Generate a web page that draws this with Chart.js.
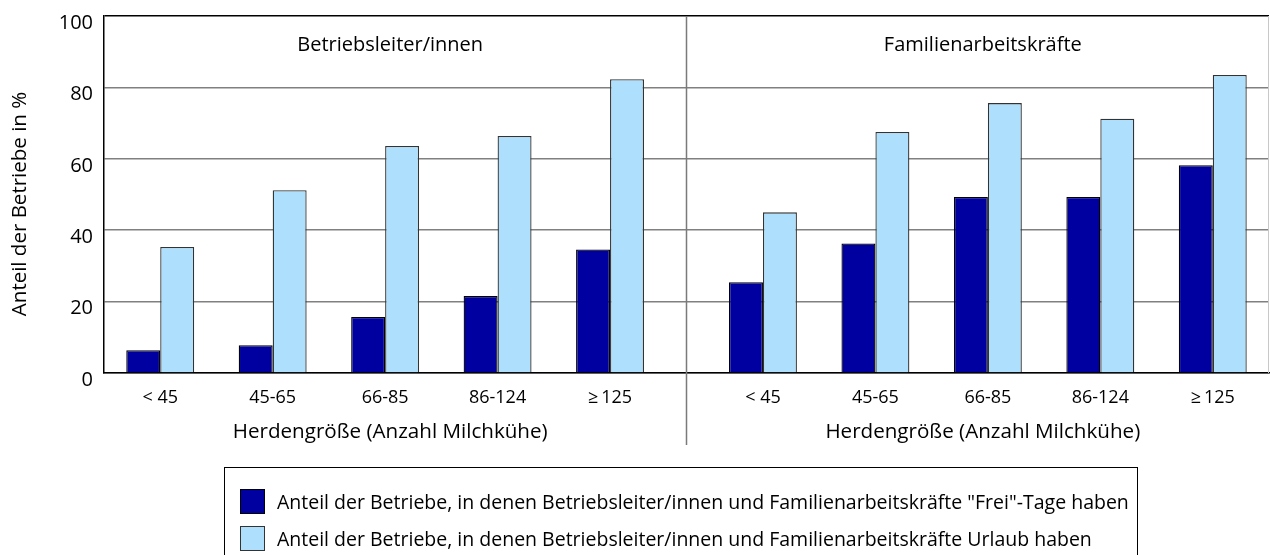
<!DOCTYPE html>
<html lang="de">
<head>
<meta charset="utf-8">
<title>Frei-Tage und Urlaub nach Herdengröße</title>
<script src="https://cdn.jsdelivr.net/npm/chart.js@4.4.1/dist/chart.umd.min.js"></script>
<style>
  html, body { margin: 0; padding: 0; background: #fff; }
  #wrap { position: relative; width: 1270px; height: 555px; }
  #legende {
    position: absolute; left: 224px; top: 467px; width: 914px; height: 100px;
    border: 1.5px solid #000; box-sizing: border-box;
    font-family: 'Open Sans', sans-serif; font-size: 19.5px; color: #000;
  }
  .eintrag { position: absolute; left: 15px; height: 26px; display: flex; align-items: center; white-space: nowrap; }
  .kasten { width: 25px; height: 25px; margin-right: 12px; box-sizing: border-box; }
</style>
</head>
<body>
<div id="wrap">
  <canvas id="chart"></canvas>
  <div id="legende"></div>
</div>
<script>
// --- DATEN ---
const groessen = ['< 45', '45-65', '66-85', '86-124', '\u2265\u2009125'];
const gruppen = ['Betriebsleiter/innen', 'Familienarbeitskräfte'];
const serien = [
  'Anteil der Betriebe, in denen Betriebsleiter/innen und Familienarbeitskräfte "Frei"-Tage haben',
  'Anteil der Betriebe, in denen Betriebsleiter/innen und Familienarbeitskräfte Urlaub haben'
];
// je 5 Werte Betriebsleiter/innen, dann 5 Werte Familienarbeitskräfte
const freiTage = [6.4, 7.8, 15.7, 21.6, 34.6, 25.4, 36.3, 49.3, 49.3, 58.2];
const urlaub = [35.3, 51.2, 63.6, 66.4, 82.3, 45.0, 67.5, 75.6, 71.2, 83.5];
const yTicks = [0, 20, 40, 60, 80, 100];
const achsenTitel = 'Herdengröße (Anzahl Milchkühe)';
const yTitel = 'Anteil der Betriebe in %';

// --- LAYOUT ---
const FARBEN = ['#0000A0', '#AEDFFC'];
const RAHMEN = ['#000000', '#333333'];
const LUECKE = 0.36; // zusätzlicher Abstand zwischen den beiden Gruppen (in Kategorien)
const SCHRIFT = "'Open Sans', sans-serif";

// Position einer Kategorie auf der x-Achse
function slot(i) {
  return i + (i >= groessen.length ? LUECKE : 0);
}
const trenner = (groessen.length - 1) + (1 + LUECKE) / 2;

const punkte = (werte) => werte.map((v, i) => ({ x: slot(i), y: v }));

// Eigene Zeichnungen: Trennlinie, Gruppentitel, Achsentitel
const beschriftung = {
  id: 'beschriftung',
  afterDraw(chart) {
    const c = chart.ctx;
    const x = chart.scales.x;
    const area = chart.chartArea;
    const xt = x.getPixelForValue(trenner);

    c.save();
    // rechter Rand
    c.strokeStyle = '#c8c8c8';
    c.lineWidth = 1;
    c.beginPath();
    c.moveTo(area.right - 0.5, area.top);
    c.lineTo(area.right - 0.5, area.bottom);
    c.stroke();
    // Trennlinie zwischen den Gruppen
    c.strokeStyle = '#7a7a7a';
    c.lineWidth = 1.5;
    c.beginPath();
    c.moveTo(xt, area.top);
    c.lineTo(xt, 445);
    c.stroke();

    c.fillStyle = '#000';
    c.textAlign = 'center';
    c.textBaseline = 'middle';
    const n = groessen.length;
    const mitten = [
      (x.getPixelForValue(slot(2)) + (area.left + xt) / 2) / 2,
      (x.getPixelForValue(slot(n + 2)) + (xt + area.right) / 2) / 2
    ];
    gruppen.forEach((g, k) => {
      c.font = '20px ' + SCHRIFT;
      c.fillText(g, mitten[k], 45);
      c.font = '20.6px ' + SCHRIFT;
      c.fillText(achsenTitel, mitten[k], 432);
    });

    // y-Achsentitel
    c.font = '20.5px ' + SCHRIFT;
    c.translate(20, 204);
    c.rotate(-Math.PI / 2);
    c.fillText(yTitel, 0, 0);
    c.restore();
  }
};

new Chart(document.getElementById('chart'), {
  type: 'bar',
  data: {
    datasets: [
      { label: serien[0], data: punkte(freiTage), backgroundColor: FARBEN[0], borderColor: RAHMEN[0], borderWidth: 1.3 },
      { label: serien[1], data: punkte(urlaub), backgroundColor: FARBEN[1], borderColor: RAHMEN[1], borderWidth: 1.3 }
    ]
  },
  options: {
    responsive: true,
    maintainAspectRatio: false,
    animation: false,
    layout: { padding: { top: 16, right: 1, left: 0, bottom: 0 } },
    categoryPercentage: 0.604,
    barPercentage: 1,
    plugins: { legend: { display: false }, tooltip: { enabled: false } },
    scales: {
      x: {
        type: 'linear',
        offset: false,
        min: -0.5,
        max: slot(freiTage.length - 1) + 0.5,
        afterBuildTicks: (s) => { s.ticks = freiTage.map((_, i) => ({ value: slot(i) })); },
        afterFit: (s) => { s.height = 182; s.paddingLeft = 0; s.paddingRight = 0; },
        grid: { display: false, drawTicks: false, offset: false },
        border: { color: '#000', width: 1.5 },
        ticks: {
          autoSkip: false, maxRotation: 0, padding: 14, color: '#000',
          font: { family: SCHRIFT, size: 18 },
          callback: (v, i) => groessen[i % groessen.length]
        }
      },
      y: {
        min: 0, max: 100,
        afterBuildTicks: (s) => { s.ticks = yTicks.map(v => ({ value: v })); },
        afterFit: (s) => { s.width = 104; s.paddingTop = 0; s.paddingBottom = 0; },
        grid: {
          drawTicks: false,
          color: (ctx) => (ctx.tick && ctx.tick.value === 100) ? '#000' : '#808080',
          lineWidth: 1.5
        },
        border: { color: '#000', width: 1.5 },
        ticks: {
          padding: 11, labelOffset: 7, color: '#000',
          font: { family: SCHRIFT, size: 20 }
        }
      }
    }
  },
  plugins: [beschriftung]
});

// Legende
const legende = document.getElementById('legende');
serien.forEach((name, k) => {
  const zeile = document.createElement('div');
  zeile.className = 'eintrag';
  zeile.style.top = (20 + k * 37) + 'px';
  const kasten = document.createElement('span');
  kasten.className = 'kasten';
  kasten.style.background = FARBEN[k];
  kasten.style.border = '1.5px solid ' + RAHMEN[k];
  const text = document.createElement('span');
  text.textContent = name;
  zeile.appendChild(kasten);
  zeile.appendChild(text);
  legende.appendChild(zeile);
});
</script>
</body>
</html>
